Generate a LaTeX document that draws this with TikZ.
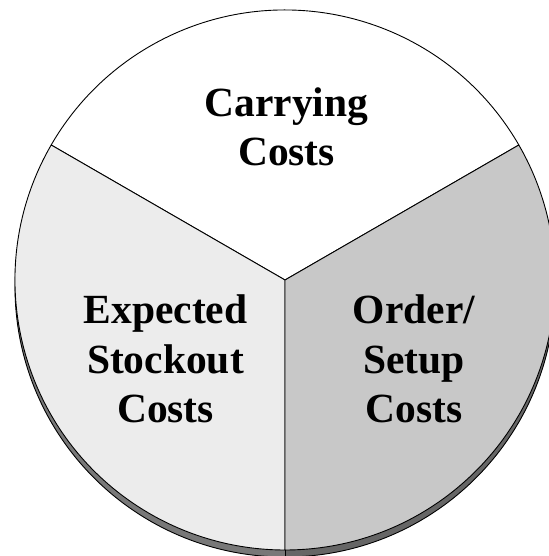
\documentclass[tikz,border=0pt]{standalone}
\usepackage{fontspec}
\setmainfont{Liberation Serif}
\usetikzlibrary{calc}
\definecolor{faceL}{gray}{0.925}
\definecolor{faceR}{gray}{0.784}
\definecolor{wallL}{gray}{0.47}
\definecolor{wallR}{gray}{0.40}
\begin{document}
\begin{tikzpicture}[x=1pt,y=1pt,
  rim/.style={draw=black,line width=0.9pt,line join=round},
  lbl/.style={font=\fontsize{41.5}{49.5}\selectfont\bfseries,align=center,anchor=base,inner sep=0pt}]
\useasboundingbox (0,0) rectangle (548,556);
% pie centre and the centre of the lower rim
\coordinate (c) at (285,276);
\coordinate (s) at (285,269);
% side wall of the disc
\fill[wallL] (s) -- ++(90:270) arc[start angle=90,end angle=270,radius=270] -- cycle;
\fill[wallR] (s) -- ++(-90:270) arc[start angle=-90,end angle=90,radius=270] -- cycle;
\draw[rim] (s) circle[radius=270];
\draw[rim] ($(c)+(0,-270)$) -- ($(s)+(0,-270)$);
% top face
\filldraw[rim,fill=white] (c) -- ++(30:270) arc[start angle=30,end angle=150,radius=270] -- cycle;
\filldraw[rim,fill=faceL] (c) -- ++(150:270) arc[start angle=150,end angle=270,radius=270] -- cycle;
\filldraw[rim,fill=faceR] (c) -- ++(270:270) arc[start angle=270,end angle=390,radius=270] -- cycle;
% labels (anchored at the baseline of the last line)
\node[lbl] (carry) at (286.5,390.4) {Carrying\\Costs};
\node[lbl] (stock) at (165.5,133) {Expected\\Stockout\\Costs};
\node[lbl] (order) at (414,133) {Order/\\Setup\\Costs};
\end{tikzpicture}
\end{document}
